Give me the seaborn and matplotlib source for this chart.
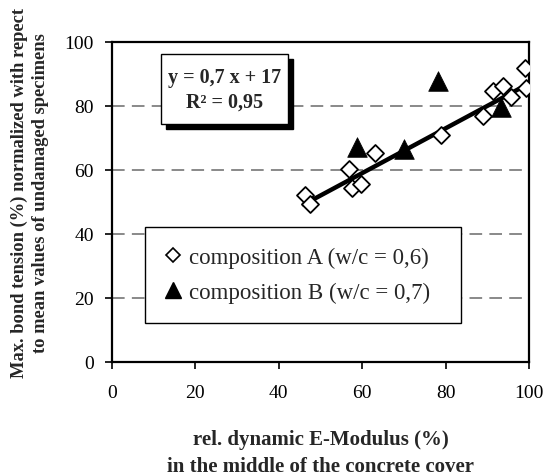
import matplotlib
matplotlib.use("Agg")
import matplotlib.pyplot as plt
import numpy as np
import pandas as pd
import seaborn as sns
from matplotlib.patches import Rectangle

# data
a_emod = [46.3, 47.5, 56.9, 57.5, 59.7, 63.1, 79.0, 88.9, 91.3, 93.8, 95.8, 99.0, 99.4]
a_bond = [52.2, 49.4, 60.3, 54.3, 55.6, 65.3, 70.9, 76.8, 84.8, 86.1, 82.7, 91.8, 85.5]
b_emod = [58.7, 70.0, 78.3, 93.4]
b_bond = [67.1, 66.6, 87.9, 79.6]
fit_slope, fit_icpt = 0.7, 17
fit_range = [46, 100]
labels = ["composition A (w/c = 0,6)", "composition B (w/c = 0,7)"]

df = pd.DataFrame({
    "emod": a_emod + b_emod,
    "bond": a_bond + b_bond,
    "comp": [labels[0]] * len(a_emod) + [labels[1]] * len(b_emod),
})
fit = pd.DataFrame({"x": fit_range})
fit["y"] = fit_slope * fit["x"] + fit_icpt

sns.set_style("white")
plt.rcParams["font.family"] = ["Liberation Serif", "DejaVu Serif"]

fig = plt.figure(figsize=(5.51, 4.77), dpi=100)
ax = fig.add_axes([0.203, 0.239, 0.757, 0.671])

for y in [20, 40, 60, 80]:
    ax.axhline(y, color="#808080", lw=1.3, ls=(0, (7, 4)), zorder=1)

sns.lineplot(data=fit, x="x", y="y", color="black", lw=3.2, ax=ax, zorder=3)
sns.scatterplot(data=df[df.comp == labels[0]], x="emod", y="bond", marker="D",
                s=75, facecolor="white", edgecolor="black", linewidth=1.3,
                ax=ax, zorder=4, legend=False)
sns.scatterplot(data=df[df.comp == labels[1]], x="emod", y="bond", marker="^",
                s=200, color="black", edgecolor="black", linewidth=0.5,
                ax=ax, zorder=5, legend=False)

ax.set_xlim(0, 100)
ax.set_ylim(0, 100)
ax.set_xticks(range(0, 101, 20))
ax.set_yticks(range(0, 101, 20))
ax.tick_params(direction="out", length=5, width=1.2, labelsize=14, pad=8,
               bottom=True, left=True, colors="black")
ax.tick_params(axis="x", pad=11)
for s in ax.spines.values():
    s.set_linewidth(1.6)
    s.set_color("black")

ax.set_xlabel("rel. dynamic E-Modulus (%)\nin the middle of the concrete cover",
              fontsize=15, fontweight="bold", labelpad=20, linespacing=1.45)
ax.set_ylabel("Max. bond tension (%) normalized with repect\nto mean values of undamaged specimens",
              fontsize=13.3, fontweight="bold", labelpad=10, linespacing=1.3)
ax.yaxis.set_label_coords(-0.15, 0.53)

# equation box with shadow
ax.add_patch(Rectangle((0.130, 0.728), 0.304, 0.218, transform=ax.transAxes,
                       facecolor="black", edgecolor="black", zorder=6, clip_on=False))
ax.add_patch(Rectangle((0.118, 0.744), 0.304, 0.218, transform=ax.transAxes,
                       facecolor="white", edgecolor="black", lw=1.0, zorder=7, clip_on=False))
ax.text(0.270, 0.853, "y = 0,7 x + 17\nR² = 0,95", transform=ax.transAxes,
        ha="center", va="center", fontsize=14.5, fontweight="bold", linespacing=1.3, zorder=8)

# legend box
ax.add_patch(Rectangle((0.079, 0.122), 0.758, 0.300, transform=ax.transAxes,
                       facecolor="white", edgecolor="black", lw=1.0, zorder=6))
h_a = plt.Line2D([], [], marker="D", ls="", ms=7, mfc="white", mec="black", mew=1.2)
h_b = plt.Line2D([], [], marker="^", ls="", ms=11, color="black")
ax.legend([h_a, h_b], labels, loc="center left", bbox_to_anchor=(0.075, 0.272),
          frameon=False, fontsize=16.5, handlelength=0.8, handletextpad=0.3,
          labelspacing=0.6).set_zorder(9)

fig.savefig("out.png", dpi=100)
